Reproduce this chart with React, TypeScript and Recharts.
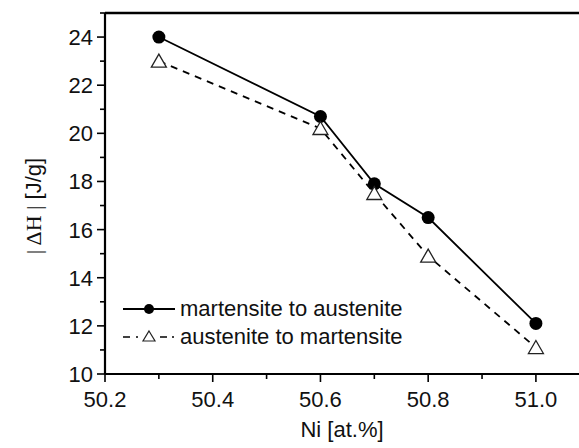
import { LineChart, Line, XAxis, YAxis, ReferenceLine } from "recharts";

const niContent = [50.3, 50.6, 50.7, 50.8, 51.0];
const martToAust = [24.0, 20.7, 17.9, 16.5, 12.1];
const austToMart = [23.0, 20.2, 17.5, 14.9, 11.1];

const xTicks = [50.2, 50.3, 50.4, 50.5, 50.6, 50.7, 50.8, 50.9, 51.0];
const yTicks = [10, 11, 12, 13, 14, 15, 16, 17, 18, 19, 20, 21, 22, 23, 24, 25];

const data = niContent.map((ni, i) => ({
  ni,
  m2a: martToAust[i],
  a2m: austToMart[i],
}));

const FONT = "'Liberation Sans', Arial, sans-serif";
const SERIF = "'Liberation Serif', 'DejaVu Serif', serif";

const YTick = (props: any) => {
  const { x, y, payload } = props;
  const major = payload.value % 2 === 0 && payload.value !== 25;
  return (
    <g>
      <line x1={x} x2={x - (major ? 8 : 5)} y1={y} y2={y} stroke="#000" strokeWidth={1.6} />
      {major && (
        <text x={x - 12} y={y} dy={8} textAnchor="end" fontSize={22} fontFamily={FONT} fill="#111">
          {payload.value}
        </text>
      )}
    </g>
  );
};

const XTick = (props: any) => {
  const { x, y, payload } = props;
  const major = Math.round(payload.value * 10) % 2 === 0;
  return (
    <g>
      <line x1={x} x2={x} y1={y} y2={y + (major ? 8 : 5)} stroke="#000" strokeWidth={1.6} />
      {major && (
        <text x={x} y={y + 33} textAnchor="middle" fontSize={22} fontFamily={FONT} fill="#111">
          {payload.value.toFixed(1)}
        </text>
      )}
    </g>
  );
};

const CircleDot = (props: any) => {
  const { cx, cy } = props;
  if (cx == null || cy == null) return null;
  return <circle cx={cx} cy={cy} r={6.5} fill="#000" />;
};

const TriangleDot = (props: any) => {
  const { cx, cy } = props;
  if (cx == null || cy == null) return null;
  return (
    <path
      d={`M${cx},${cy - 7} L${cx + 7.5},${cy + 6} L${cx - 7.5},${cy + 6} Z`}
      fill="#fff"
      stroke="#222"
      strokeWidth={1.3}
    />
  );
};

const XLabel = () => (
  <text x={342} y={437} textAnchor="middle" fontSize={22} fontFamily={FONT} fill="#111">
    Ni [at.%]
  </text>
);

const YLabel = () => (
  <text
    x={41}
    y={206}
    transform="rotate(-90 41 206)"
    textAnchor="middle"
    fontSize={22}
    fontFamily={FONT}
    fill="#111"
  >
    <tspan fontFamily={SERIF} fontSize={22}>
      | ΔH |
    </tspan>
    <tspan> [J/g]</tspan>
  </text>
);

const LegendBox = () => (
  <div
    style={{
      position: "absolute",
      left: 120,
      top: 295,
      fontFamily: FONT,
      fontSize: 22,
      color: "#111",
      lineHeight: "28px",
    }}
  >
    <div style={{ display: "flex", alignItems: "center" }}>
      <svg width={58} height={20}>
        <line x1={3} x2={55} y1={10} y2={10} stroke="#000" strokeWidth={2} />
        <circle cx={29} cy={10} r={5} fill="#000" />
      </svg>
      <span style={{ marginLeft: 2 }}>martensite to austenite</span>
    </div>
    <div style={{ display: "flex", alignItems: "center" }}>
      <svg width={58} height={20}>
        <line x1={3} x2={10} y1={10} y2={10} stroke="#000" strokeWidth={1.5} />
        <circle cx={17} cy={10} r={1} fill="#000" />
        <path d="M29,4 L35,14 L23,14 Z" fill="#fff" stroke="#222" strokeWidth={1.2} />
        <line x1={40} x2={47} y1={10} y2={10} stroke="#000" strokeWidth={1.5} />
        <circle cx={53} cy={10} r={1} fill="#000" />
      </svg>
      <span style={{ marginLeft: 2 }}>austenite to martensite</span>
    </div>
  </div>
);

export default function App() {
  return (
    <div style={{ position: "absolute", left: 0, top: 0, width: 579, height: 448, background: "#fff" }}>
      <LineChart width={579} height={448} data={data} margin={{ top: 13, right: 0, bottom: 0, left: 0 }}>
        <XAxis
          dataKey="ni"
          type="number"
          domain={[50.2, 51.08]}
          ticks={xTicks}
          allowDataOverflow
          tick={<XTick />}
          tickSize={0}
          tickMargin={0}
          tickLine={false}
          axisLine={{ stroke: "#000", strokeWidth: 2.2 }}
          height={74}
          label={() => <XLabel />}
        />
        <YAxis
          type="number"
          domain={[10, 25]}
          ticks={yTicks}
          interval={0}
          tick={<YTick />}
          tickSize={0}
          tickMargin={0}
          tickLine={false}
          axisLine={{ stroke: "#000", strokeWidth: 2.2 }}
          width={105}
          label={() => <YLabel />}
        />
        <ReferenceLine y={25} stroke="#000" strokeWidth={2.5} ifOverflow="visible" />
        <Line
          dataKey="m2a"
          stroke="#000"
          strokeWidth={1.8}
          dot={<CircleDot />}
          activeDot={false}
          isAnimationActive={false}
        />
        <Line
          dataKey="a2m"
          stroke="#000"
          strokeWidth={1.8}
          strokeDasharray="7 6"
          dot={<TriangleDot />}
          activeDot={false}
          isAnimationActive={false}
        />
      </LineChart>
      <LegendBox />
    </div>
  );
}
